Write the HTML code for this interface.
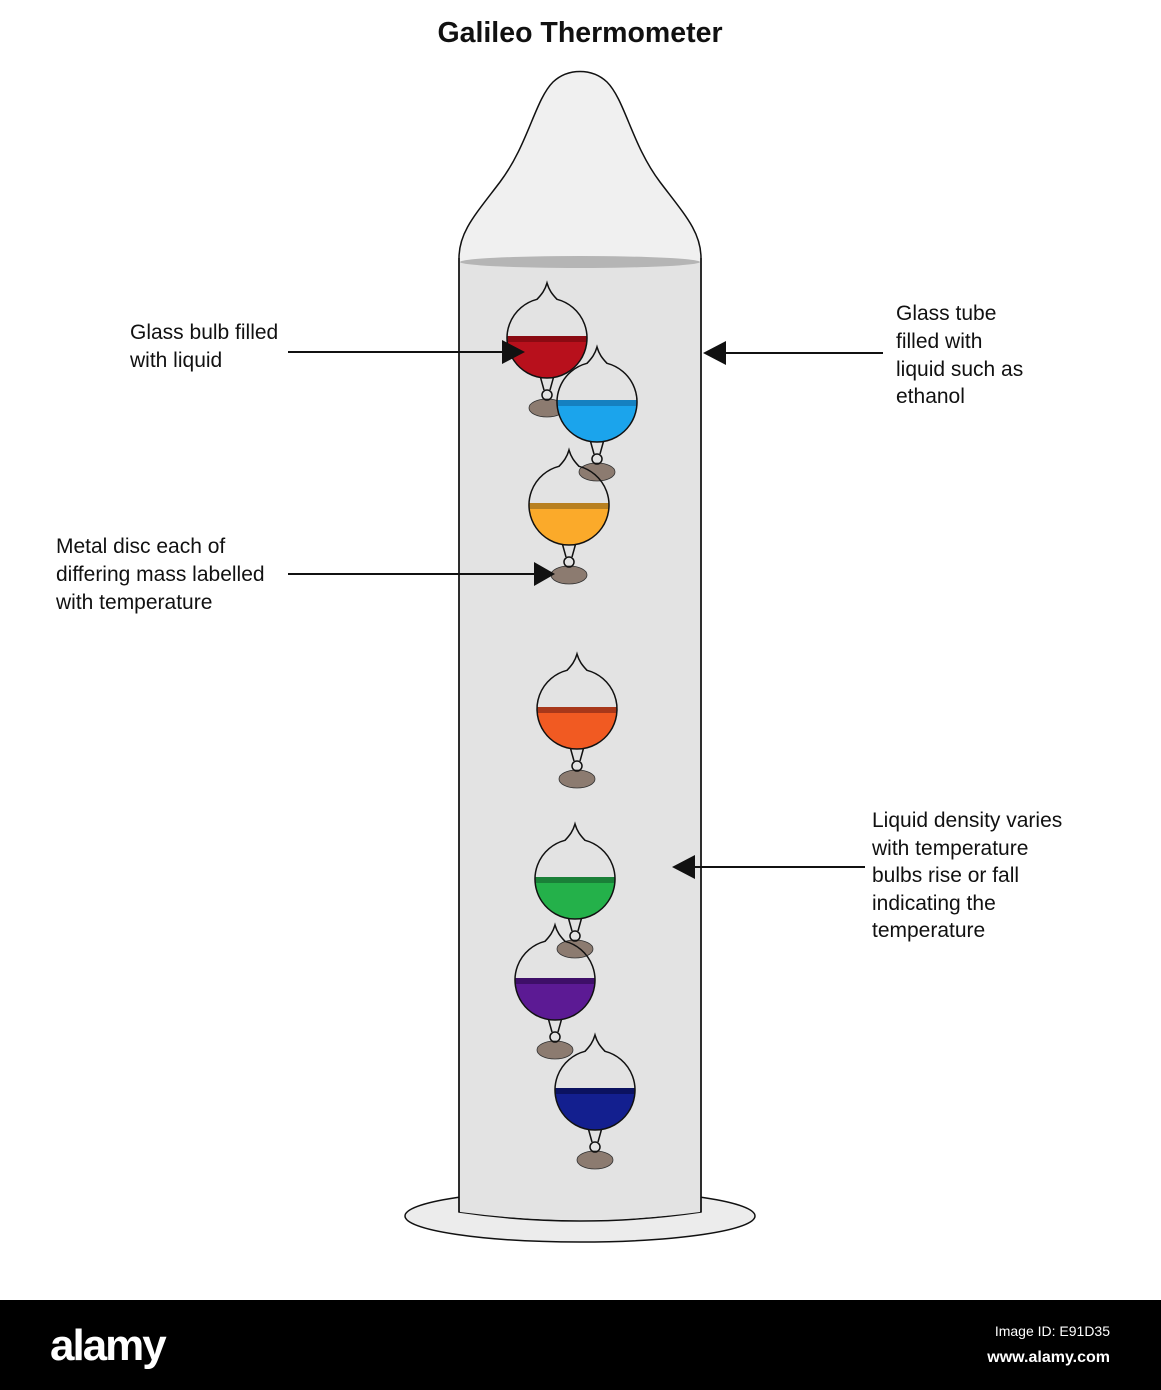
<!DOCTYPE html>
<html><head><meta charset="utf-8"><style>
html,body{margin:0;padding:0;background:#fff;}
svg{display:block;font-family:"Liberation Sans",sans-serif;}
</style></head><body>
<svg width="1161" height="1390" viewBox="0 0 1161 1390" xmlns="http://www.w3.org/2000/svg">
<rect width="1161" height="1390" fill="#fff"/>
<text x="580" y="42" font-size="28.5" font-weight="bold" text-anchor="middle" fill="#111">Galileo Thermometer</text>
<ellipse cx="580" cy="1216" rx="175" ry="26" fill="#ececec" stroke="#111" stroke-width="1.5"/>
<path d="M459,1212 L459,258 C459,232 475,215 500,182 C528,145 535,100 553,82 C568,68 592,68 607,82 C625,100 632,145 660,182 C685,215 701,232 701,258 L701,1212 Q580,1230 459,1212 Z" fill="#f0f0f0" stroke="#111" stroke-width="1.5"/>
<path d="M460,262 L700,262 L700,1212 Q580,1228 460,1212 Z" fill="#e3e3e3"/>
<ellipse cx="580" cy="262" rx="120" ry="6" fill="#b5b5b5"/>
<line x1="459" y1="258" x2="459" y2="1212" stroke="#111" stroke-width="1.5"/>
<line x1="701" y1="258" x2="701" y2="1212" stroke="#111" stroke-width="1.5"/>
<defs>
<g id="b">
<path d="M-8,34 L-3,52 M8,34 L3,52" stroke="#111" stroke-width="1.5" fill="none"/>
<ellipse cx="0" cy="70" rx="18" ry="9" fill="#8c7b70" stroke="#333" stroke-width="0.8"/>
<circle cx="0" cy="57" r="5" fill="none" stroke="#111" stroke-width="1.5"/>
</g>
<path id="o" d="M-10,-38.7 C-5,-44 -2,-48 0,-55 C2,-48 5,-44 10,-38.7 A40,40 0 1 1 -10,-38.7 Z" fill="none" stroke="#111" stroke-width="1.5"/>
</defs>
<g transform="translate(547,338)">
<use href="#b"/>
<path d="M-40,0 L40,0 A40,40 0 0 1 -40,0 Z" fill="#b8101c"/>
<rect x="-40" y="-2" width="80" height="6" fill="#8a0a12"/>
<use href="#o"/>
</g>
<g transform="translate(597,402)">
<use href="#b"/>
<path d="M-40,0 L40,0 A40,40 0 0 1 -40,0 Z" fill="#1ba4ec"/>
<rect x="-40" y="-2" width="80" height="6" fill="#1580c0"/>
<use href="#o"/>
</g>
<g transform="translate(569,505)">
<use href="#b"/>
<path d="M-40,0 L40,0 A40,40 0 0 1 -40,0 Z" fill="#fbaa2a"/>
<rect x="-40" y="-2" width="80" height="6" fill="#b88020"/>
<use href="#o"/>
</g>
<g transform="translate(577,709)">
<use href="#b"/>
<path d="M-40,0 L40,0 A40,40 0 0 1 -40,0 Z" fill="#f15a22"/>
<rect x="-40" y="-2" width="80" height="6" fill="#a8381a"/>
<use href="#o"/>
</g>
<g transform="translate(575,879)">
<use href="#b"/>
<path d="M-40,0 L40,0 A40,40 0 0 1 -40,0 Z" fill="#24b14a"/>
<rect x="-40" y="-2" width="80" height="6" fill="#1a8038"/>
<use href="#o"/>
</g>
<g transform="translate(555,980)">
<use href="#b"/>
<path d="M-40,0 L40,0 A40,40 0 0 1 -40,0 Z" fill="#5c1a94"/>
<rect x="-40" y="-2" width="80" height="6" fill="#3e0f68"/>
<use href="#o"/>
</g>
<g transform="translate(595,1090)">
<use href="#b"/>
<path d="M-40,0 L40,0 A40,40 0 0 1 -40,0 Z" fill="#131f8f"/>
<rect x="-40" y="-2" width="80" height="6" fill="#0b1260"/>
<use href="#o"/>
</g>
<g stroke="#111" stroke-width="2">
<line x1="288" y1="352" x2="505" y2="352"/>
<line x1="723" y1="353" x2="883" y2="353"/>
<line x1="288" y1="574" x2="535" y2="574"/>
<line x1="693" y1="867" x2="865" y2="867"/>
</g>
<g fill="#111">
<polygon points="525,352 502,340 502,364"/>
<polygon points="703,353 726,341 726,365"/>
<polygon points="555,574 534,562 534,586"/>
<polygon points="672,867 695,855 695,879"/>
</g>
<g font-size="21" fill="#111">
<text x="130" y="339">Glass bulb filled</text>
<text x="130" y="367">with liquid</text>
<text x="896" y="320">Glass tube</text>
<text x="896" y="348">filled with</text>
<text x="896" y="376">liquid such as</text>
<text x="896" y="403">ethanol</text>
<text x="56" y="553">Metal disc each of</text>
<text x="56" y="581">differing mass labelled</text>
<text x="56" y="609">with temperature</text>
<text x="872" y="827">Liquid density varies</text>
<text x="872" y="855">with temperature</text>
<text x="872" y="882">bulbs rise or fall</text>
<text x="872" y="910">indicating the</text>
<text x="872" y="937">temperature</text>
</g>
<rect x="0" y="1300" width="1161" height="90" fill="#000"/>
<text x="50" y="1360" font-size="44" font-weight="bold" fill="#fff" letter-spacing="-2">alamy</text>
<text x="1110" y="1336" font-size="14" fill="#fff" text-anchor="end">Image ID: E91D35</text>
<text x="1110" y="1362" font-size="16" font-weight="bold" fill="#fff" text-anchor="end">www.alamy.com</text>
</svg>
</body></html>
